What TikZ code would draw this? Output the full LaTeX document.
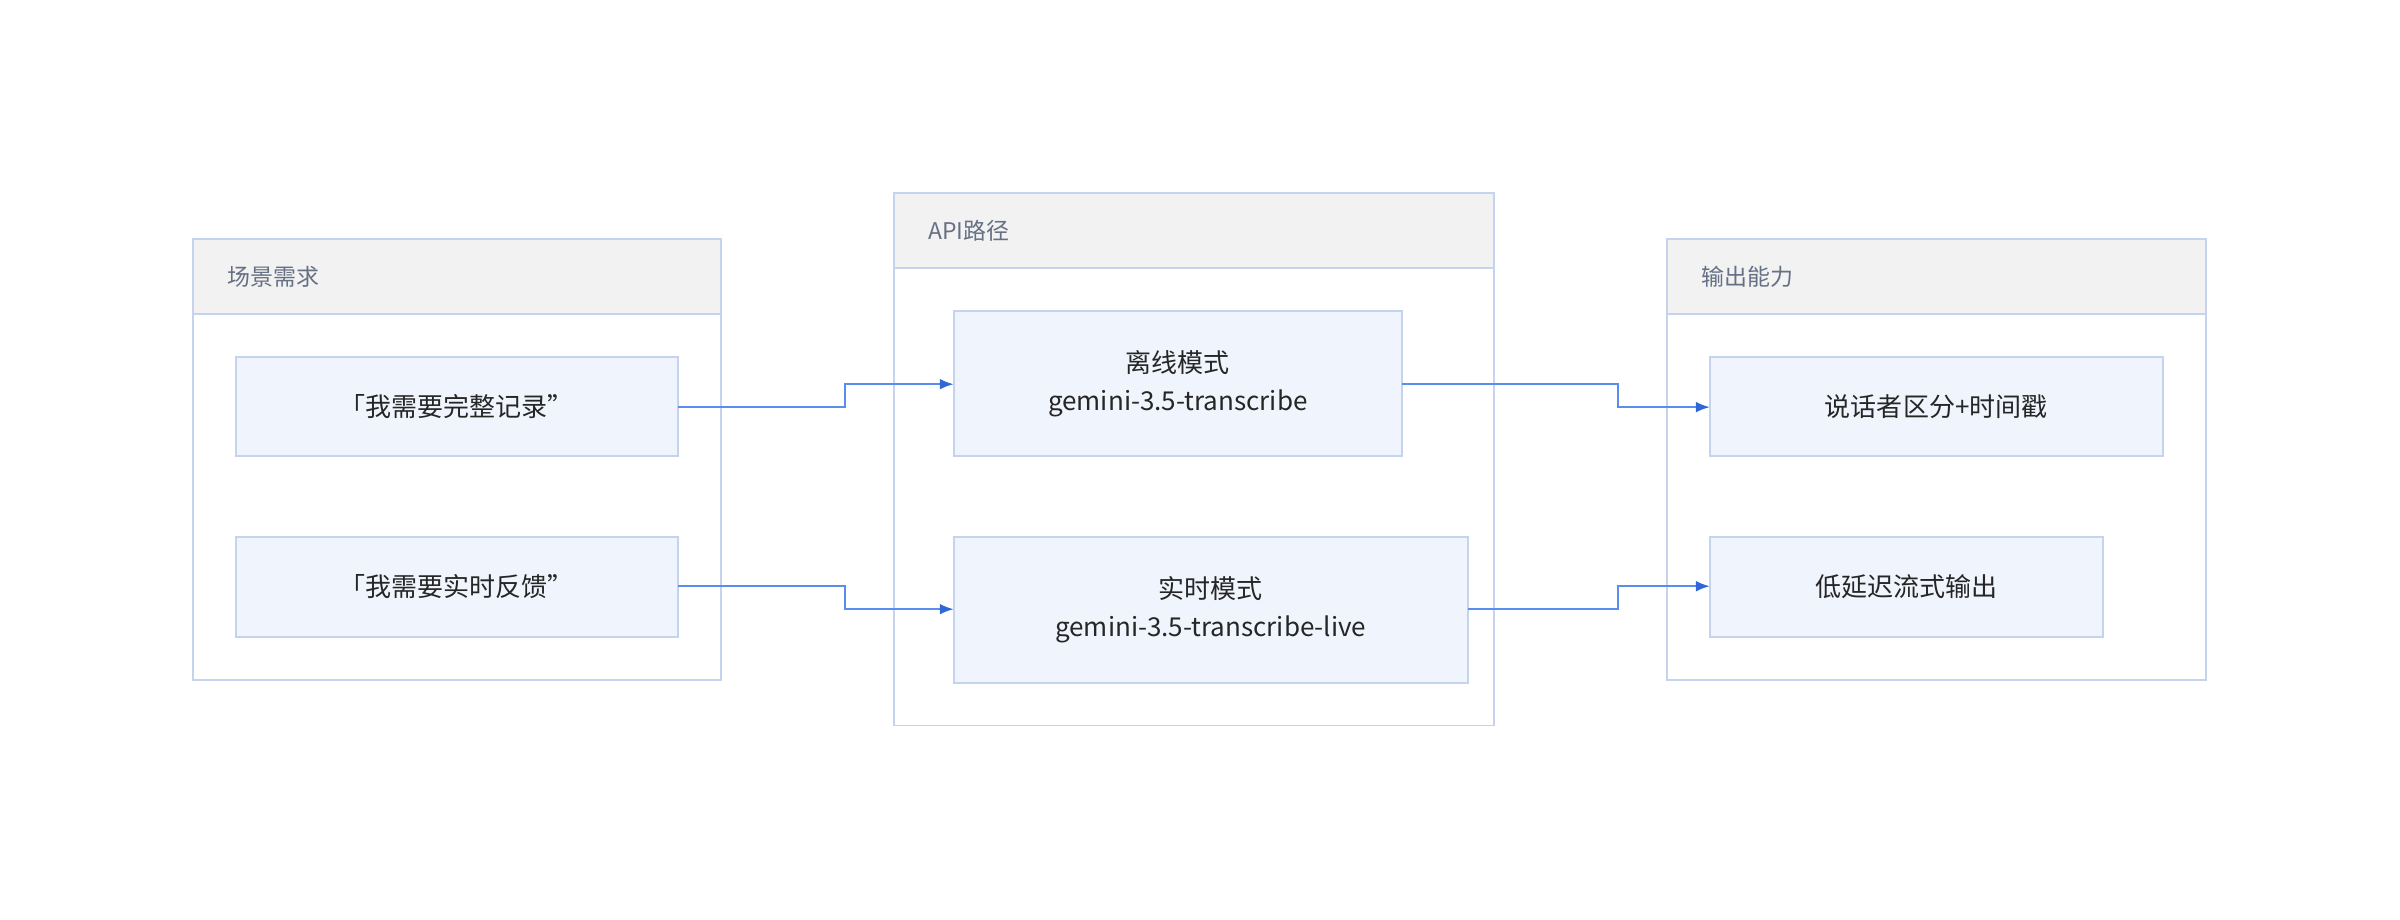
\documentclass[tikz,border=0pt]{standalone}
\usepackage{fontspec}
\setmainfont{Noto Sans CJK SC}
\usetikzlibrary{arrows.meta}
\definecolor{gb}{HTML}{C5D3EE}
\definecolor{hf}{HTML}{F2F2F2}
\definecolor{nf}{HTML}{F0F5FD}
\definecolor{ar}{HTML}{5B8DEF}
\definecolor{ah}{HTML}{2F66D8}
\definecolor{tt}{HTML}{667085}
\begin{document}
\begin{tikzpicture}[x=1pt,y=-1pt,
  grp/.style={draw=gb,line width=1.2pt},
  hdr/.style={draw=gb,fill=hf,line width=1.2pt},
  ttl/.style={anchor=west,text=tt,font=\fontsize{15}{18}\selectfont},
  nd/.style={draw=gb,fill=nf,line width=1.2pt},
  lbl/.style={align=center,text=black!85,font=\fontsize{17}{25}\selectfont},
  con/.style={draw=ar,line width=1.1pt,-{Latex[length=9pt,width=7pt,color=ah]}}]
\useasboundingbox (0,0) rectangle (1568,601);
% groups
\draw[grp] (126,156) rectangle (471,444);
\draw[hdr] (126,156) rectangle (471,205);
\node[ttl] (t1) at (145,181) {场景需求};
\draw[grp] (584,126) rectangle (976,474);
\draw[hdr] (584,126) rectangle (976,175);
\node[ttl] (t2) at (603,151) {API路径};
\draw[grp] (1089,156) rectangle (1441,444);
\draw[hdr] (1089,156) rectangle (1441,205);
\node[ttl] (t3) at (1108,181) {输出能力};
% nodes
\draw[nd] (154,233) rectangle (443,298);
\node[lbl] (a) at (298.5,265.5) {「我需要完整记录"};
\draw[nd] (154,351) rectangle (443,416);
\node[lbl] (b) at (298.5,383.5) {「我需要实时反馈"};
\draw[nd] (623,203) rectangle (916,298);
\node[lbl] (c) at (769.5,250.5) {离线模式\\gemini-3.5-transcribe};
\draw[nd] (623,351) rectangle (959,446);
\node[lbl] (d) at (791,398.5) {实时模式\\gemini-3.5-transcribe-live};
\draw[nd] (1117,233) rectangle (1413,298);
\node[lbl] (e) at (1265,265.5) {说话者区分+时间戳};
\draw[nd] (1117,351) rectangle (1374,416);
\node[lbl] (f) at (1245.5,383.5) {低延迟流式输出};
% anchors
\coordinate (aE) at (443,266); \coordinate (cW) at (623,251);
\coordinate (bE) at (443,383); \coordinate (dW) at (623,398);
\coordinate (cE) at (916,251); \coordinate (eW) at (1117,266);
\coordinate (dE) at (959,398); \coordinate (fW) at (1117,383);
\draw[con] (aE) -- (552,266) -- (552,251) -- (cW);
\draw[con] (bE) -- (552,383) -- (552,398) -- (dW);
\draw[con] (cE) -- (1057,251) -- (1057,266) -- (eW);
\draw[con] (dE) -- (1057,398) -- (1057,383) -- (fW);
\end{tikzpicture}
\end{document}
